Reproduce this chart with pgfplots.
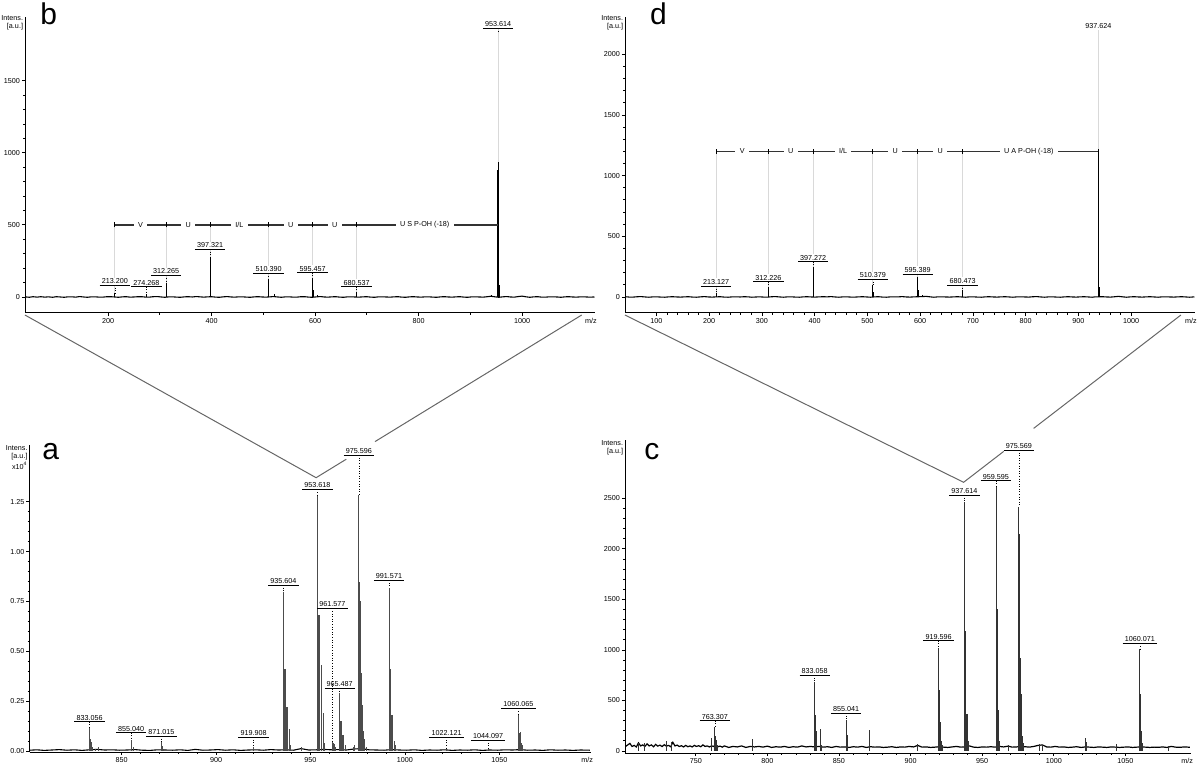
\documentclass[border=0pt]{standalone}
\usepackage{fontspec}
\setmainfont{Liberation Sans}
\usepackage{pgfplots}
\pgfplotsset{compat=1.18}

\newcommand\tfont{\fontsize{3.6bp}{4.3bp}\selectfont}

\pgfplotsset{
  spec/.style={
    scale only axis, anchor=south west,
    axis lines*=left,
    axis line style={-, line width=0.5bp, black},
    tick align=outside,
    major tick length=1.6bp, minor tick length=0.9bp,
    every tick/.append style={line width=0.4bp, black},
    tick label style={font=\tfont, inner sep=0.8bp},
    /pgf/number format/assume math mode=true,
    /pgf/number format/set thousands separator={},
    scaled ticks=false,
    clip=false,
  },
  peaks/.style={ycomb, line width=0.45bp, black!75, mark=none},
  base/.style={sharp plot, line width=0.55bp, black, mark=none},
}
\tikzset{
  plab/.style={anchor=south, inner xsep=0.9bp, inner ysep=0.5bp, font=\tfont},
  plabw/.style={plab, fill=white},
  barlab/.style={fill=white, inner xsep=2.2bp, inner ysep=0.4bp, font=\tfont},
}

% [style]{x}{y underline}{y peak}{text}
\newcommand\pl[5][plab]{%
  \node[#1] (L) at (axis cs:#2,#3) {#5};
  \draw[line width=0.35bp] (L.south west) -- (L.south east);
  \draw[line width=0.3bp, densely dotted] (axis cs:#2,#3) -- (axis cs:#2,#4);
}

\begin{document}
\begin{tikzpicture}
\path[use as bounding box] (0,0) rectangle (600bp,381.5bp);

% ---------------- panel b ----------------
\begin{axis}[spec, at={(12.5bp,225bp)}, width=285bp, height=148bp,
  xmin=39.6, xmax=1141, ymin=-111, ymax=1942,
  xtick={200,400,600,800,1000}, minor x tick num=1,
  ytick={0,500,1000,1500}, minor y tick num=4]
\draw[black!15, line width=0.4bp] (axis cs:213.2,500) -- (axis cs:213.2,25);
\draw[black!15, line width=0.4bp] (axis cs:312.265,500) -- (axis cs:312.265,100);
\draw[black!15, line width=0.4bp] (axis cs:397.321,500) -- (axis cs:397.321,280);
\draw[black!15, line width=0.4bp] (axis cs:510.39,500) -- (axis cs:510.39,118);
\draw[black!15, line width=0.4bp] (axis cs:595.457,500) -- (axis cs:595.457,123);
\draw[black!15, line width=0.4bp] (axis cs:680.537,500) -- (axis cs:680.537,30);
\draw[black!15, line width=0.4bp] (axis cs:953.614,1863) -- (axis cs:953.614,938);
\addplot[base] coordinates {
(40,1) (48,-2) (55,2) (63,-1) (70,2) (78,-1) (85,1) (93,-2) (100,2) (108,0)
(115,-2) (123,1) (130,1) (138,-1) (145,3) (153,0) (160,-2) (168,1) (175,1) (183,-1)
(190,-1) (198,2) (205,2) (213,0) (220,-2) (228,1) (235,2) (243,-1) (250,0) (258,2)
(265,2) (273,-1) (280,-1) (288,2) (295,3) (303,0) (310,-2) (318,1) (325,1) (333,-1)
(340,-2) (348,1) (355,2) (363,0) (370,3) (378,1) (385,-1) (393,1) (400,2) (408,-1)
(415,-2) (423,1) (430,3) (438,0) (445,-1) (453,1) (460,1) (468,-1) (475,-2) (483,1)
(490,2) (498,0) (505,-1) (513,1) (520,3) (528,0) (535,-2) (543,1) (550,1) (558,-1)
(565,-1) (573,2) (580,2) (588,-1) (595,-2) (603,1) (610,3) (618,0) (625,-1) (633,1)
(640,2) (648,-1) (655,-2) (663,1) (670,1) (678,0) (685,-1) (693,1) (700,2) (708,-1)
(715,-2) (723,1) (730,1) (738,0) (745,-1) (753,1) (760,2) (768,-1) (775,-2) (783,1)
(790,2) (798,0) (805,-1) (813,1) (820,1) (828,-1) (835,-2) (843,1) (850,2) (858,0)
(865,-1) (873,1) (880,2) (888,-1) (895,-2) (903,1) (910,1) (918,0) (925,-1) (933,2)
(940,5) (948,1) (955,-2) (963,1) (970,3) (978,0) (985,-1) (993,3) (1000,6) (1008,1)
(1015,-2) (1023,1) (1030,2) (1038,-1) (1045,-1) (1053,1) (1060,1) (1068,0) (1075,-2)
(1083,1) (1090,2) (1098,0) (1105,-1) (1113,1) (1120,1) (1130,-1) (1140,0)};
\addplot[peaks, black] coordinates {
(213.2,25) (274.27,20) (285,10) (312.27,100) (312.8,40) (397.32,280) (397.8,130)
(398.3,40) (510.39,118) (510.9,50) (521,20) (595.46,123) (596.0,50) (605,15)
(680.54,30) (940,15) (952.8,880) (953.2,500) (953.61,938) (954.0,500) (954.6,326)
(955.5,80)};
% sequence bar
\draw[black!80, line width=0.8bp] (axis cs:213.2,500) -- (axis cs:953.614,500);
\pgfplotsinvokeforeach{213.2,312.265,397.321,510.39,595.457,680.537,953.614}{
  \draw[black, line width=0.5bp] (axis cs:#1,483) -- (axis cs:#1,517);}
\node[barlab] at (axis cs:262.7,500) {V};
\node[barlab] at (axis cs:354.8,500) {U};
\node[barlab] at (axis cs:453.9,500) {I/L};
\node[barlab] at (axis cs:552.9,500) {U};
\node[barlab] at (axis cs:638,500) {U};
\node[barlab] at (axis cs:812,500) {U S P-OH (-18)};
\pl[plabw]{213.2}{83}{25}{213.200}
\pl[plabw]{274.268}{72}{20}{274.268}
\pl[plabw]{312.265}{150}{100}{312.265}
\pl[plabw]{397.321}{331}{280}{397.321}
\pl[plabw]{510.39}{164}{118}{510.390}
\pl[plabw]{595.457}{169}{123}{595.457}
\pl[plabw]{680.537}{72}{30}{680.537}
\pl[plabw]{953.614}{1863}{1835}{953.614}
\node[anchor=north east, align=right, font=\tfont, inner sep=0, xshift=-0.8bp, yshift=1bp] at (rel axis cs:0,1) {Intens.\\{[a.u.]}};
\node[anchor=north east, font=\tfont, inner sep=0, yshift=-2.6bp, xshift=1bp] at (rel axis cs:1,0) {m/z};
\end{axis}

% ---------------- panel d ----------------
\begin{axis}[spec, at={(312.5bp,225bp)}, width=285bp, height=148bp,
  xmin=40.5, xmax=1121, ymin=-132, ymax=2307,
  xtick={100,200,300,400,500,600,700,800,900,1000}, minor x tick num=4,
  ytick={0,500,1000,1500,2000}, minor y tick num=4]
\draw[black!15, line width=0.4bp] (axis cs:213.127,1200) -- (axis cs:213.127,35);
\draw[black!15, line width=0.4bp] (axis cs:312.226,1200) -- (axis cs:312.226,80);
\draw[black!15, line width=0.4bp] (axis cs:397.272,1200) -- (axis cs:397.272,236);
\draw[black!15, line width=0.4bp] (axis cs:510.379,1200) -- (axis cs:510.379,99);
\draw[black!15, line width=0.4bp] (axis cs:595.389,1200) -- (axis cs:595.389,154);
\draw[black!15, line width=0.4bp] (axis cs:680.473,1200) -- (axis cs:680.473,52);
\draw[black!15, line width=0.4bp] (axis cs:937.624,2200) -- (axis cs:937.624,1190);
\addplot[base] coordinates {
(41,2) (49,-1) (56,-1) (64,2) (71,3) (79,0) (86,-2) (94,1) (101,1) (109,-1)
(116,-2) (124,1) (131,2) (139,0) (146,-1) (154,1) (161,2) (169,-1) (176,-2) (184,1)
(191,3) (199,0) (206,-1) (214,1) (221,2) (229,-1) (236,-2) (244,1) (251,1) (259,0)
(266,2) (274,1) (281,-2) (289,0) (296,1) (304,-1) (311,-1) (319,2) (326,3) (334,0)
(341,-2) (349,1) (356,1) (364,-1) (371,-2) (379,1) (386,2) (394,0) (401,-1) (409,1)
(416,2) (424,1) (431,3) (439,0) (446,-2) (454,1) (461,1) (469,-1) (476,-1) (484,1)
(491,2) (499,0) (506,-2) (514,1) (521,2) (529,-1) (536,-2) (544,1) (551,1) (559,1)
(566,3) (574,0) (581,-1) (589,1) (596,2) (604,3) (611,5) (619,1) (626,-2) (634,1)
(641,1) (649,0) (656,-1) (664,1) (671,2) (679,0) (686,-2) (694,1) (701,1) (709,-1)
(716,-2) (724,1) (731,2) (739,0) (746,-1) (754,1) (761,2) (769,0) (776,-2) (784,1)
(791,1) (799,0) (806,-1) (814,2) (821,3) (829,0) (836,-2) (844,1) (851,1) (859,-1)
(866,-2) (874,1) (881,2) (889,0) (896,-1) (904,1) (911,2) (919,0) (926,-2) (932,1)
(946,2) (954,0) (961,-1) (969,2) (976,5) (984,1) (991,-2) (999,1) (1006,2) (1014,0)
(1021,-1) (1029,1) (1036,2) (1044,0) (1051,-2) (1059,1) (1066,1) (1074,0) (1081,-1)
(1089,1) (1096,2) (1104,0) (1111,-2) (1120,1)};
\addplot[peaks, black] coordinates {
(213.13,35) (312.23,80) (312.7,30) (397.27,236) (397.8,80) (510.38,99) (510.9,40)
(595.39,154) (595.9,60) (605,20) (680.47,52) (937.3,1100) (937.62,1190) (938.0,540)
(938.4,237) (939.2,80) (980,10)};
\draw[black!80, line width=0.8bp] (axis cs:213.127,1200) -- (axis cs:937.624,1200);
\pgfplotsinvokeforeach{213.127,312.226,397.272,510.379,595.389,680.473,937.624}{
  \draw[black, line width=0.5bp] (axis cs:#1,1180) -- (axis cs:#1,1220);}
\node[barlab] at (axis cs:262.7,1200) {V};
\node[barlab] at (axis cs:354.7,1200) {U};
\node[barlab] at (axis cs:453.8,1200) {I/L};
\node[barlab] at (axis cs:552.9,1200) {U};
\node[barlab] at (axis cs:637.9,1200) {U};
\node[barlab] at (axis cs:806,1200) {U A P-OH (-18)};
\pl[plabw]{213.127}{91}{35}{213.127}
\pl[plabw]{312.226}{126}{80}{312.226}
\pl[plabw]{397.272}{291}{236}{397.272}
\pl[plabw]{510.379}{146}{99}{510.379}
\pl[plabw]{595.389}{190}{154}{595.389}
\pl[plabw]{680.473}{99}{52}{680.473}
\node[plab, fill=white] at (axis cs:937.624,2200) {937.624};
\node[anchor=north east, align=right, font=\tfont, inner sep=0, xshift=-0.8bp, yshift=1bp] at (rel axis cs:0,1) {Intens.\\{[a.u.]}};
\node[anchor=north east, font=\tfont, inner sep=0, yshift=-2.6bp, xshift=1bp] at (rel axis cs:1,0) {m/z};
\end{axis}

% ---------------- panel a ----------------
\begin{axis}[spec, at={(14.75bp,5.5bp)}, width=280.9bp, height=153.5bp,
  xmin=801.2, xmax=1098.7, ymin=-0.005, ymax=1.535,
  xtick={850,900,950,1000,1050}, minor x tick num=4,
  ytick={0,0.25,0.5,0.75,1,1.25}, minor y tick num=4,
  yticklabel style={/pgf/number format/.cd, fixed, fixed zerofill, precision=2}]
\addplot[base] coordinates {
(801.5,0.004) (805,0.006) (809,0.003) (813,0.005) (817,0.007) (821,0.004) (825,0.006)
(829,0.003) (833,0.006) (837,0.008) (841,0.005) (845,0.006) (849,0.004) (853,0.005)
(857,0.007) (861,0.004) (865,0.003) (869,0.006) (873,0.005) (877,0.004) (881,0.006)
(885,0.003) (889,0.008) (893,0.004) (897,0.005) (901,0.007) (905,0.004) (909,0.006)
(913,0.003) (917,0.005) (921,0.006) (925,0.004) (929,0.007) (933,0.005) (937,0.006)
(941,0.004) (945,0.012) (949,0.005) (953,0.006) (957,0.008) (961,0.006) (965,0.007)
(969,0.005) (973,0.010) (977,0.012) (981,0.006) (985,0.005) (989,0.004) (993,0.007)
(997,0.005) (1001,0.004) (1005,0.006) (1009,0.003) (1013,0.005) (1017,0.004)
(1021,0.006) (1025,0.003) (1029,0.005) (1033,0.004) (1037,0.006) (1041,0.003)
(1045,0.005) (1049,0.004) (1053,0.006) (1057,0.005) (1061,0.007) (1065,0.004)
(1069,0.005) (1073,0.003) (1077,0.006) (1081,0.004) (1085,0.005) (1089,0.003)
(1093,0.005) (1098,0.004)};
\addplot[peaks, black!70] coordinates {
(833.06,0.114) (833.4,0.06) (834.06,0.045) (834.5,0.02) (836.0,0.012) (837.5,0.018)
(855.04,0.055) (855.4,0.03) (856.0,0.02) (856.5,0.01)
(871.02,0.047) (871.4,0.025) (872.0,0.012)
(919.91,0.022)
(935.60,0.80) (935.9,0.41) (936.3,0.41) (936.6,0.41) (936.9,0.22) (937.3,0.22)
(937.6,0.22) (938.0,0.11) (938.6,0.11) (939.3,0.03)
(945,0.02)
(953.62,1.284) (953.9,0.72) (954.3,0.68) (954.6,0.68) (955.0,0.43) (955.6,0.43)
(956.0,0.17) (956.6,0.19) (957.5,0.04)
(961.58,0.045) (962.0,0.04) (962.6,0.035) (963.2,0.02)
(965.49,0.289) (965.8,0.15) (966.5,0.15) (967.0,0.08) (967.5,0.08) (968.3,0.03)
(972.5,0.02) (973.5,0.03)
(975.60,1.284) (975.9,0.85) (976.3,0.39) (976.6,0.75) (977.0,0.39) (977.6,0.23)
(978.0,0.10) (978.6,0.06) (979.5,0.02)
(991.57,0.82) (991.9,0.44) (992.3,0.41) (992.6,0.41) (993.0,0.18) (993.6,0.18)
(994.2,0.05) (994.8,0.03)
(1022.12,0.015) (1044.10,0.01)
(1060.07,0.18) (1060.4,0.09) (1061.0,0.095) (1061.5,0.04) (1062.0,0.03)};
\pl{833.056}{0.147}{0.114}{833.056}
\pl{855.040}{0.092}{0.055}{855.040}
\pl{871.015}{0.075}{0.047}{871.015}
\pl{919.908}{0.069}{0.022}{919.908}
\pl{935.604}{0.832}{0.80}{935.604}
\pl{953.618}{1.312}{1.284}{953.618}
\pl{961.577}{0.715}{0.045}{961.577}
\pl{965.487}{0.314}{0.289}{965.487}
\pl{975.596}{1.484}{1.284}{975.596}
\pl{991.571}{0.857}{0.82}{991.571}
\pl{1022.121}{0.069}{0.015}{1022.121}
\pl{1044.097}{0.055}{0.01}{1044.097}
\pl{1060.065}{0.214}{0.18}{1060.065}
\node[anchor=north east, align=right, font=\tfont, inner sep=0, xshift=-0.8bp, yshift=0bp] at (rel axis cs:0,1) {Intens.\\{[a.u.]}\\x10\textsuperscript{4}};
\node[anchor=north east, font=\tfont, inner sep=0, yshift=-2.6bp, xshift=1bp] at (rel axis cs:1,0) {m/z};
\end{axis}

% ---------------- panel c ----------------
\begin{axis}[spec, at={(312.5bp,5bp)}, width=283.15bp, height=156.5bp,
  xmin=700.6, xmax=1096, ymin=-20, ymax=3077,
  xtick={750,800,850,900,950,1000,1050}, minor x tick num=4,
  ytick={0,500,1000,1500,2000,2500}, minor y tick num=4]
\addplot[base, line width=0.6bp] coordinates {
(701,45) (702.5,60) (704,75) (705.5,45) (707,55) (708.5,40) (710,80) (711.5,50)
(713,60) (714.5,45) (716,70) (717.5,50) (719,60) (720.5,42) (722,65) (723.5,48)
(725,58) (726.5,44) (728,62) (729.5,48) (731,55) (732.5,42) (734,85) (735.5,50)
(737,58) (738.5,44) (740,52) (741.5,40) (743,55) (744.5,42) (746,50) (747.5,40)
(749,55) (750.5,45) (752,52) (753.5,42) (755,60) (756.5,45) (758,50) (759.5,40)
(761,50) (762.5,45) (764,60) (765.5,42) (767,48) (768.5,38) (770,50)
(773,35) (776,45) (779,40)
(782,50) (785,35) (788,45) (791,40) (794,45) (797,38) (800,48) (803,35) (806,42)
(809,38) (812,45) (815,35) (818,42) (821,38) (824,50) (827,40) (830,45) (833,40)
(836,45) (839,38) (842,42) (845,35) (848,45) (851,38) (854,40) (857,35) (860,42)
(863,38) (866,45) (869,35) (872,42) (875,38) (878,40) (881,35) (884,38) (887,42)
(890,35) (893,40) (896,38) (899,45) (902,40) (905,55) (908,38) (911,40) (914,35)
(917,38) (920,42) (923,38) (926,35) (929,40) (932,45) (935,38) (938,40) (941,50)
(944,38) (947,35) (950,40) (953,38) (956,42) (959,38) (962,45) (965,40) (968,48)
(971,38) (974,40) (977,45) (980,42) (983,38) (986,45) (989,55) (992,60) (995,40)
(998,38) (1001,45) (1004,38) (1007,40) (1010,35) (1013,38) (1016,42) (1019,35)
(1022,40) (1025,38) (1028,35) (1031,40) (1034,38) (1037,35) (1040,40) (1043,38)
(1046,35) (1049,38) (1052,40) (1055,35) (1058,38) (1061,40) (1064,38) (1067,35)
(1070,38) (1073,36) (1076,40) (1079,35) (1082,45) (1085,38) (1088,36) (1091,40)
(1095,37)};
\addplot[peaks, black!80] coordinates {
(729.5,100) (733,90) (710,80) (714,75)
(761.3,130) (763.31,240) (763.7,150) (764.3,110) (765,60)
(789.4,120)
(833.06,686) (833.4,360) (833.8,310) (834.3,200) (836.8,215) (837.3,120) (838,60)
(855.04,307) (855.5,170) (856,160)
(871.0,210) (871.5,110)
(905,70)
(919.60,1016) (919.9,600) (920.3,510) (920.6,290) (921.0,290) (921.6,100) (922.3,60)
(937.61,2467) (937.9,1250) (938.3,1190) (938.6,660) (939.0,370) (939.6,370) (940.3,100)
(959.60,2622) (959.9,1460) (960.3,1400) (960.6,800) (961.0,410) (961.6,410) (962.3,100)
(968,60)
(975.57,2417) (975.9,2150) (976.3,1620) (976.6,920) (977.0,560) (977.6,560) (978.3,150) (979,80)
(990,70) (992,60)
(1022.1,130) (1022.6,90)
(1044,70)
(1060.07,1006) (1060.4,560) (1060.8,530) (1061.2,200) (1061.7,80)
(1080,50)};
\pl{763.307}{300}{240}{763.307}
\pl{833.058}{749}{686}{833.058}
\pl{855.041}{373}{307}{855.041}
\pl{919.596}{1091}{1016}{919.596}
\pl{937.614}{2533}{2467}{937.614}
\pl{959.595}{2674}{2622}{959.595}
\pl{975.569}{2978}{2417}{975.569}
\pl{1060.071}{1065}{1006}{1060.071}
\node[anchor=north east, align=right, font=\tfont, inner sep=0, xshift=-0.8bp, yshift=0bp] at (rel axis cs:0,1) {Intens.\\{[a.u.]}};
\node[anchor=north east, font=\tfont, inner sep=0, yshift=-2.6bp, xshift=1bp] at (rel axis cs:1,0) {m/z};
\end{axis}

% zoom lines
\draw[black!60, line width=0.5bp] (12.45bp,224bp) -- (158.05bp,142.65bp) -- (173.15bp,151.9bp);
\draw[black!60, line width=0.5bp] (187.5bp,160.7bp) -- (290.85bp,224bp);
\draw[black!60, line width=0.5bp] (312.45bp,224bp) -- (481.8bp,140.35bp) -- (501.85bp,155.8bp);
\draw[black!60, line width=0.5bp] (516.8bp,167.3bp) -- (590.45bp,224bp);

% panel letters
\node[anchor=base west, inner sep=0, font=\fontsize{15bp}{15bp}\selectfont] at (20bp,369bp) {b};
\node[anchor=base west, inner sep=0, font=\fontsize{15bp}{15bp}\selectfont] at (324.9bp,369bp) {d};
\node[anchor=base west, inner sep=0, font=\fontsize{15bp}{15bp}\selectfont] at (21bp,151.5bp) {a};
\node[anchor=base west, inner sep=0, font=\fontsize{15bp}{15bp}\selectfont] at (322bp,151.5bp) {c};
\end{tikzpicture}
\end{document}
